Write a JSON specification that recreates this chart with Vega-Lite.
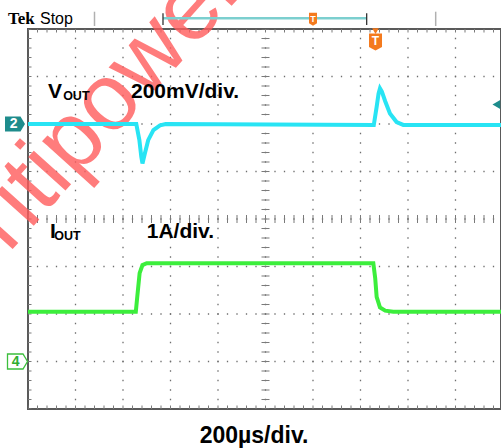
{
  "$schema": "https://vega.github.io/schema/vega-lite/v6.json",
  "width": 473,
  "height": 380,
  "autosize": "none",
  "padding": {"left": 28, "top": 29, "right": 0, "bottom": 39},
  "background": "white",
  "config": {"view": {"stroke": "#5a5a5a", "strokeWidth": 2}, "axis": {"disable": true}},
  "data": {"values": [{"one": 1}]},
  "datasets": {
    "traces": [
      {"ch": "VOUT", "t": 0, "v": 2.0},
      {"ch": "VOUT", "t": 2.28, "v": 2.0},
      {"ch": "VOUT", "t": 2.345, "v": 1.66},
      {"ch": "VOUT", "t": 2.385, "v": 1.31},
      {"ch": "VOUT", "t": 2.41, "v": 1.17},
      {"ch": "VOUT", "t": 2.46, "v": 1.38},
      {"ch": "VOUT", "t": 2.53, "v": 1.66},
      {"ch": "VOUT", "t": 2.64, "v": 1.87},
      {"ch": "VOUT", "t": 2.78, "v": 1.97},
      {"ch": "VOUT", "t": 2.9, "v": 2.0},
      {"ch": "VOUT", "t": 7.28, "v": 1.98},
      {"ch": "VOUT", "t": 7.34, "v": 2.36},
      {"ch": "VOUT", "t": 7.38, "v": 2.64},
      {"ch": "VOUT", "t": 7.41, "v": 2.75},
      {"ch": "VOUT", "t": 7.45, "v": 2.68},
      {"ch": "VOUT", "t": 7.52, "v": 2.48},
      {"ch": "VOUT", "t": 7.62, "v": 2.22},
      {"ch": "VOUT", "t": 7.76, "v": 2.04},
      {"ch": "VOUT", "t": 7.9, "v": 1.98},
      {"ch": "VOUT", "t": 9.958, "v": 1.98},
      {"ch": "IOUT", "t": 0, "v": -1.95},
      {"ch": "IOUT", "t": 2.27, "v": -1.95},
      {"ch": "IOUT", "t": 2.3, "v": -1.64},
      {"ch": "IOUT", "t": 2.35, "v": -1.14},
      {"ch": "IOUT", "t": 2.41, "v": -0.97},
      {"ch": "IOUT", "t": 2.5, "v": -0.93},
      {"ch": "IOUT", "t": 7.27, "v": -0.93},
      {"ch": "IOUT", "t": 7.31, "v": -1.25},
      {"ch": "IOUT", "t": 7.34, "v": -1.64},
      {"ch": "IOUT", "t": 7.41, "v": -1.86},
      {"ch": "IOUT", "t": 7.52, "v": -1.93},
      {"ch": "IOUT", "t": 7.69, "v": -1.95},
      {"ch": "IOUT", "t": 9.958, "v": -1.95}
    ],
    "vgrid": [{"x": 1}, {"x": 2}, {"x": 3}, {"x": 4}, {"x": 5}, {"x": 6}, {"x": 7}, {"x": 8}, {"x": 9}],
    "hgrid": [{"y": -3}, {"y": -2}, {"y": -1}, {"y": 0}, {"y": 1}, {"y": 2}, {"y": 3}],
    "bigLabels": [
      {"x": 0.42, "y": 2.547, "label": "V"},
      {"x": 2.168, "y": 2.547, "label": "200mV/div."},
      {"x": 0.463, "y": -0.4, "label": "I"},
      {"x": 2.5, "y": -0.4, "label": "1A/div."}
    ],
    "subLabels": [
      {"x": 0.74, "y": 2.495, "label": "OUT"},
      {"x": 0.555, "y": -0.44, "label": "OUT"}
    ],
    "barMarks": [{"x": 1.4}, {"x": 8.583}],
    "brackets": [{"x": 2.842}, {"x": 7.13}]
  },
  "layer": [
    {
      "data": {"name": "vgrid"},
      "mark": {"type": "rule", "color": "#6e6e6e", "strokeWidth": 1.3, "strokeDash": [1.3, 8.2], "strokeDashOffset": 0.65},
      "encoding": {
        "x": {"field": "x", "type": "quantitative", "scale": {"domain": [0, 9.958], "nice": false, "zero": false}, "axis": null},
        "y": {"datum": 4, "type": "quantitative", "scale": {"domain": [-4, 4], "nice": false, "zero": false}, "axis": null},
        "y2": {"datum": -4}
      }
    },
    {
      "data": {"name": "hgrid"},
      "mark": {"type": "rule", "color": "#6e6e6e", "strokeWidth": 1.3, "strokeDash": [1.3, 8.2], "strokeDashOffset": 0.65},
      "encoding": {
        "y": {"field": "y", "type": "quantitative"},
        "x": {"datum": 0, "type": "quantitative"},
        "x2": {"datum": 9.958}
      }
    },
    {
      "mark": {"type": "rule", "color": "#7a7a7a", "strokeWidth": 8, "strokeDash": [1, 8.5], "strokeDashOffset": 0.5},
      "encoding": {"x": {"datum": 5, "type": "quantitative"}, "y": {"datum": 4, "type": "quantitative"}, "y2": {"datum": -4}}
    },
    {
      "mark": {"type": "rule", "color": "#7a7a7a", "strokeWidth": 8, "strokeDash": [1, 8.5], "strokeDashOffset": 0.5},
      "encoding": {"y": {"datum": 0, "type": "quantitative"}, "x": {"datum": 0, "type": "quantitative"}, "x2": {"datum": 9.958}}
    },
    {
      "mark": {"type": "rule", "color": "#7a7a7a", "strokeWidth": 7, "strokeDash": [1, 8.5], "strokeDashOffset": 0.5, "clip": true},
      "encoding": {"y": {"datum": 4, "type": "quantitative"}, "x": {"datum": 0, "type": "quantitative"}, "x2": {"datum": 9.958}}
    },
    {
      "mark": {"type": "rule", "color": "#7a7a7a", "strokeWidth": 7, "strokeDash": [1, 8.5], "strokeDashOffset": 0.5, "clip": true},
      "encoding": {"y": {"datum": -4, "type": "quantitative"}, "x": {"datum": 0, "type": "quantitative"}, "x2": {"datum": 9.958}}
    },
    {
      "mark": {"type": "rule", "color": "#7a7a7a", "strokeWidth": 7, "strokeDash": [1, 8.5], "strokeDashOffset": 0.5, "clip": true},
      "encoding": {"x": {"datum": 0, "type": "quantitative"}, "y": {"datum": 4, "type": "quantitative"}, "y2": {"datum": -4}}
    },
    {
      "mark": {"type": "text", "text": "ritipower", "font": "Liberation Sans", "fontSize": 95, "color": "#ff5c5c", "opacity": 0.8, "angle": -48, "align": "center", "baseline": "middle"},
      "encoding": {"x": {"datum": 1.66, "type": "quantitative"}, "y": {"datum": 2.48, "type": "quantitative"}}
    },
    {
      "data": {"name": "traces"},
      "mark": {"type": "line", "strokeWidth": 4, "interpolate": "linear"},
      "encoding": {
        "x": {"field": "t", "type": "quantitative"},
        "y": {"field": "v", "type": "quantitative"},
        "color": {"field": "ch", "type": "nominal", "scale": {"domain": ["VOUT", "IOUT"], "range": ["#28e4f4", "#3cee3c"]}, "legend": null}
      }
    },
    {
      "data": {"name": "bigLabels"},
      "mark": {"type": "text", "font": "Liberation Sans", "fontWeight": "bold", "fontSize": 21, "color": "black", "align": "left", "baseline": "alphabetic"},
      "encoding": {"x": {"field": "x", "type": "quantitative"}, "y": {"field": "y", "type": "quantitative"}, "text": {"field": "label"}}
    },
    {
      "data": {"name": "subLabels"},
      "mark": {"type": "text", "font": "Liberation Sans", "fontWeight": "bold", "fontSize": 12.5, "color": "black", "align": "left", "baseline": "alphabetic"},
      "encoding": {"x": {"field": "x", "type": "quantitative"}, "y": {"field": "y", "type": "quantitative"}, "text": {"field": "label"}}
    },
    {
      "mark": {"type": "text", "text": "200µs/div.", "font": "Liberation Sans", "fontWeight": "bold", "fontSize": 23, "color": "black", "align": "center", "baseline": "alphabetic"},
      "encoding": {"x": {"datum": 4.758, "type": "quantitative"}, "y": {"datum": -4.716, "type": "quantitative"}}
    },
    {
      "mark": {"type": "text", "text": "Tek", "font": "Liberation Serif", "fontWeight": "bold", "fontSize": 17, "color": "black", "align": "left", "baseline": "alphabetic"},
      "encoding": {"x": {"datum": -0.421, "type": "quantitative"}, "y": {"datum": 4.105, "type": "quantitative"}}
    },
    {
      "mark": {"type": "text", "text": "Stop", "font": "Liberation Sans", "fontSize": 16, "color": "black", "align": "left", "baseline": "alphabetic"},
      "encoding": {"x": {"datum": 0.2526, "type": "quantitative"}, "y": {"datum": 4.105, "type": "quantitative"}}
    },
    {
      "data": {"name": "barMarks"},
      "mark": {"type": "rule", "color": "#b0b0b0", "strokeWidth": 1.5},
      "encoding": {"x": {"field": "x", "type": "quantitative"}, "y": {"datum": 4.364, "type": "quantitative"}, "y2": {"datum": 4.063}}
    },
    {
      "mark": {"type": "rule", "color": "#7ccfcf", "strokeWidth": 2.5},
      "encoding": {"y": {"datum": 4.225, "type": "quantitative"}, "x": {"datum": 2.842, "type": "quantitative"}, "x2": {"datum": 7.13}}
    },
    {
      "data": {"name": "brackets"},
      "mark": {"type": "rule", "color": "#333333", "strokeWidth": 1.3},
      "encoding": {"x": {"field": "x", "type": "quantitative"}, "y": {"datum": 4.33, "type": "quantitative"}, "y2": {"datum": 4.084}}
    },
    {
      "mark": {"type": "point", "shape": "M-0.615,-1 L0.615,-1 L0.615,0.6 L0,1 L-0.615,0.6 Z", "size": 169, "filled": true, "color": "#f47a1e", "opacity": 1},
      "encoding": {"x": {"datum": 6.0, "type": "quantitative"}, "y": {"datum": 4.204, "type": "quantitative"}}
    },
    {
      "mark": {"type": "text", "text": "T", "font": "Liberation Sans", "fontWeight": "bold", "fontSize": 9, "color": "white", "align": "center", "baseline": "middle"},
      "encoding": {"x": {"datum": 6.0, "type": "quantitative"}, "y": {"datum": 4.215, "type": "quantitative"}}
    },
    {
      "mark": {"type": "point", "shape": "triangle-down", "size": 45, "filled": true, "color": "#f47a1e", "opacity": 1},
      "encoding": {"x": {"datum": 7.316, "type": "quantitative"}, "y": {"datum": 3.955, "type": "quantitative"}}
    },
    {
      "mark": {"type": "point", "shape": "M-0.765,-1 L0.765,-1 L0.765,0.6 L0,1 L-0.765,0.6 Z", "size": 289, "filled": true, "color": "#f47a1e", "opacity": 1},
      "encoding": {"x": {"datum": 7.316, "type": "quantitative"}, "y": {"datum": 3.726, "type": "quantitative"}}
    },
    {
      "mark": {"type": "text", "text": "T", "font": "Liberation Sans", "fontWeight": "bold", "fontSize": 12, "color": "white", "align": "center", "baseline": "middle"},
      "encoding": {"x": {"datum": 7.316, "type": "quantitative"}, "y": {"datum": 3.745, "type": "quantitative"}}
    },
    {
      "mark": {"type": "point", "shape": "M-1,-0.75 L0.55,-0.75 L1,0 L0.55,0.75 L-1,0.75 Z", "size": 400, "filled": true, "color": "#1e8c8c", "opacity": 1},
      "encoding": {"x": {"datum": -0.274, "type": "quantitative"}, "y": {"datum": 2.0, "type": "quantitative"}}
    },
    {
      "mark": {"type": "text", "text": "2", "font": "Liberation Sans", "fontWeight": "bold", "fontSize": 14, "color": "white", "align": "center", "baseline": "middle"},
      "encoding": {"x": {"datum": -0.3, "type": "quantitative"}, "y": {"datum": 2.0, "type": "quantitative"}}
    },
    {
      "mark": {"type": "point", "shape": "M-1,-0.75 L0.55,-0.75 L1,0 L0.55,0.75 L-1,0.75 Z", "size": 400, "filled": true, "fill": "white", "stroke": "#3cbf3c", "strokeWidth": 1.3, "opacity": 1},
      "encoding": {"x": {"datum": -0.221, "type": "quantitative"}, "y": {"datum": -3.0, "type": "quantitative"}}
    },
    {
      "mark": {"type": "text", "text": "4", "font": "Liberation Sans", "fontWeight": "bold", "fontSize": 14, "color": "#2fae2f", "align": "center", "baseline": "middle"},
      "encoding": {"x": {"datum": -0.26, "type": "quantitative"}, "y": {"datum": -3.0, "type": "quantitative"}}
    },
    {
      "mark": {"type": "point", "shape": "triangle-left", "size": 80, "filled": true, "color": "#1e8c8c", "opacity": 1},
      "encoding": {"x": {"datum": 9.86, "type": "quantitative"}, "y": {"datum": 2.41, "type": "quantitative"}}
    }
  ]
}
